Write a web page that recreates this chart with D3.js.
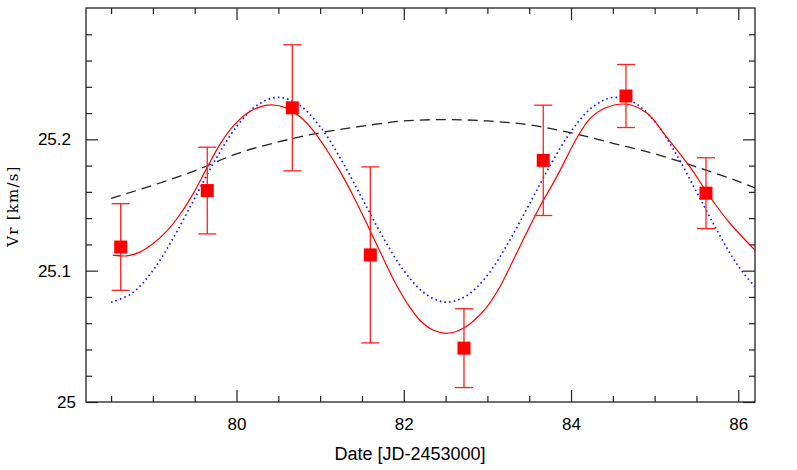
<!DOCTYPE html>
<html>
<head>
<meta charset="utf-8">
<script src="https://cdn.jsdelivr.net/npm/d3@7"></script>
<style>
  body { margin: 0; background: #fff; }
  .axis text { font-family: "Liberation Sans", Arial, sans-serif; font-size: 17px; fill: #000; }
  .axis line { stroke: #222; stroke-width: 1.2; }
  .axis path { display: none; }
</style>
</head>
<body>
<svg id="chart"></svg>
<script>
// observed radial velocities
const obsDate = [78.615, 79.65, 80.667, 81.60, 82.72, 83.668, 84.657, 85.614];
const obsVr   = [25.118, 25.161, 25.224, 25.112, 25.041, 25.184, 25.233, 25.159];
const obsHigh = [25.151, 25.194, 25.272, 25.179, 25.071, 25.226, 25.257, 25.186];
const obsLow  = [25.085, 25.128, 25.176, 25.045, 25.011, 25.142, 25.209, 25.132];

// red solid fit
const fitDate = [78.52, 78.69, 78.85, 79.00, 79.16, 79.32, 79.48, 79.64, 79.80, 79.96, 80.12, 80.28, 80.42,
                 80.60, 80.76, 80.92, 81.08, 81.24, 81.40, 81.56, 81.72, 81.88, 82.04, 82.19, 82.35, 82.51,
                 82.67, 82.83, 82.99, 83.15, 83.31, 83.47, 83.63, 83.83, 84.07, 84.23, 84.43, 84.67, 84.91,
                 85.14, 85.42, 85.66, 85.90, 86.21];
const fitVr   = [25.1118, 25.1113, 25.1143, 25.1205, 25.1297, 25.1424, 25.1585, 25.1775, 25.1960, 25.2100, 25.2195, 25.2247, 25.2262,
                 25.2238, 25.2172, 25.2065, 25.1919, 25.1754, 25.1563, 25.1355, 25.1140, 25.0929, 25.0752, 25.0624, 25.0548, 25.0523,
                 25.0548, 25.0615, 25.0720, 25.0878, 25.1081, 25.1290, 25.1490, 25.1716, 25.2010, 25.2160, 25.2244, 25.2267, 25.2198,
                 25.2020, 25.1792, 25.1563, 25.1361, 25.1150];

// blue dotted curve
const sinDate = [78.5, 78.75, 79.0, 79.25, 79.5, 79.75, 80.0, 80.25, 80.5, 80.75, 81.0, 81.25, 81.5, 81.75,
                 82.0, 82.25, 82.5, 82.75, 83.0, 83.25, 83.5, 83.75, 84.0, 84.25, 84.5, 84.75, 85.0, 85.25,
                 85.5, 85.75, 86.0, 86.2];
const sinVr   = [25.076, 25.0828, 25.1001, 25.1256, 25.1552, 25.1847, 25.2096, 25.2262, 25.232, 25.2262, 25.2096, 25.1847, 25.1552, 25.1256,
                 25.1001, 25.0828, 25.076, 25.0809, 25.0965, 25.1213, 25.1504, 25.1801, 25.206, 25.2242, 25.2319, 25.2281, 25.2137, 25.1896,
                 25.1601, 25.1302, 25.1034, 25.0878];

// black dashed long-term curve
const trendDate = [78.5, 79.0, 79.5, 80.0, 80.5, 81.0, 81.5, 82.0, 82.5, 83.0, 83.5, 84.0, 84.5, 85.0, 85.5, 86.0, 86.2];
const trendVr   = [25.155, 25.165, 25.176, 25.189, 25.198, 25.205, 25.210, 25.214, 25.215, 25.214, 25.211, 25.205, 25.197, 25.189, 25.179, 25.168, 25.163];

const xMajor = [80, 82, 84, 86];
const yMajor = [25, 25.1, 25.2];

class VelocityPlot {
    constructor(_config) {
        this.config = {
            parentElement: _config.parentElement,
            containerWidth: _config.containerWidth || 797,
            containerHeight: _config.containerHeight || 470,
            margin: {top: 8, right: 42, bottom: 68, left: 86}
        };
        this.initVis();
    }

    initVis() {
        let vis = this;

        vis.width = vis.config.containerWidth - vis.config.margin.left - vis.config.margin.right;
        vis.height = vis.config.containerHeight - vis.config.margin.top - vis.config.margin.bottom;

        vis.svg = d3.select(vis.config.parentElement)
            .attr('width', vis.config.containerWidth)
            .attr('height', vis.config.containerHeight);

        vis.chart = vis.svg.append('g')
            .attr('transform', `translate(${vis.config.margin.left}, ${vis.config.margin.top})`);

        vis.xScale = d3.scaleLinear().domain([78.2, 86.2]).range([0, vis.width]);
        vis.yScale = d3.scaleLinear().domain([25, 25.3]).range([vis.height, 0]);

        vis.chart.append('clipPath').attr('id', 'plotclip')
            .append('rect').attr('width', vis.width).attr('height', vis.height);

        vis.updateVis();
    }

    updateVis() {
        let vis = this;
        const xMinor = d3.range(78.5, 86.21, 0.5).filter(d => !xMajor.includes(d));
        const yMinor = d3.range(25.02, 25.29, 0.02).filter(d => !yMajor.some(m => Math.abs(m - d) < 1e-6));

        // ticks on all four sides, pointing inward
        vis.chart.append('g').attr('class', 'axis')
            .attr('transform', `translate(0,${vis.height})`)
            .call(d3.axisBottom(vis.xScale).tickValues(xMajor).tickSize(-12).tickPadding(16).tickFormat(d3.format('d')));
        vis.chart.append('g').attr('class', 'axis')
            .attr('transform', `translate(0,${vis.height})`)
            .call(d3.axisBottom(vis.xScale).tickValues(xMinor).tickSize(-6).tickFormat(''));
        vis.chart.append('g').attr('class', 'axis')
            .call(d3.axisTop(vis.xScale).tickValues(xMajor).tickSize(-12).tickFormat(''));
        vis.chart.append('g').attr('class', 'axis')
            .call(d3.axisTop(vis.xScale).tickValues(xMinor).tickSize(-6).tickFormat(''));

        const yAx = vis.chart.append('g').attr('class', 'axis')
            .call(d3.axisLeft(vis.yScale).tickValues(yMajor).tickSize(-12).tickPadding(15).tickFormat(d => d === 25 ? '25' : d3.format('.1f')(d)));
        yAx.selectAll('text').attr('dx', d => d === 25 ? 5 : 0);
        vis.chart.append('g').attr('class', 'axis')
            .call(d3.axisLeft(vis.yScale).tickValues(yMinor).tickSize(-6).tickFormat(''));
        vis.chart.append('g').attr('class', 'axis')
            .attr('transform', `translate(${vis.width},0)`)
            .call(d3.axisRight(vis.yScale).tickValues(yMajor).tickSize(-12).tickFormat(''));
        vis.chart.append('g').attr('class', 'axis')
            .attr('transform', `translate(${vis.width},0)`)
            .call(d3.axisRight(vis.yScale).tickValues(yMinor).tickSize(-6).tickFormat(''));

        // frame
        vis.chart.append('rect')
            .attr('width', vis.width).attr('height', vis.height)
            .attr('fill', 'none').attr('stroke', '#222').attr('stroke-width', 1.3);

        // axis labels
        vis.chart.append('text')
            .attr('x', 324).attr('y', vis.height + 58)
            .attr('text-anchor', 'middle')
            .style('font-family', '"Liberation Sans", Arial, sans-serif')
            .style('font-size', '18px')
            .text('Date [JD-2453000]');

        // typewriter-looking label in the original
        vis.chart.append('text')
            .attr('transform', `translate(${-68}, ${198}) rotate(-90)`)
            .attr('text-anchor', 'middle')
            .style('font-family', '"DejaVu Serif", "Liberation Serif", serif')
            .style('font-size', '15px')
            .style('letter-spacing', '1.2px')
            .text('Vr [km/s]');

        const line = d3.line()
            .x(d => vis.xScale(d[0]))
            .y(d => vis.yScale(d[1]))
            .curve(d3.curveCatmullRom.alpha(0.5));

        const plot = vis.chart.append('g').attr('clip-path', 'url(#plotclip)');

        plot.append('path')
            .datum(d3.zip(trendDate, trendVr))
            .attr('d', line)
            .attr('fill', 'none').attr('stroke', '#222').attr('stroke-width', 1.3)
            .attr('stroke-dasharray', '10,6');

        plot.append('path')
            .datum(d3.zip(sinDate, sinVr))
            .attr('d', line)
            .attr('fill', 'none').attr('stroke', '#1a1aff').attr('stroke-width', 1.7)
            .attr('stroke-dasharray', '1.6,3.1');

        plot.append('path')
            .datum(d3.zip(fitDate, fitVr))
            .attr('d', line)
            .attr('fill', 'none').attr('stroke', '#ff0000').attr('stroke-width', 1.2);

        // error bars
        const obs = obsDate.map((d, i) => ({date: d, vr: obsVr[i], hi: obsHigh[i], lo: obsLow[i]}));
        const bars = plot.selectAll('.err').data(obs).join('g').attr('class', 'err')
            .attr('stroke', '#ff2020').attr('stroke-width', 1.3);
        bars.append('line')
            .attr('x1', d => vis.xScale(d.date)).attr('x2', d => vis.xScale(d.date))
            .attr('y1', d => vis.yScale(d.hi)).attr('y2', d => vis.yScale(d.lo));
        bars.append('line')
            .attr('x1', d => vis.xScale(d.date) - 9).attr('x2', d => vis.xScale(d.date) + 9)
            .attr('y1', d => vis.yScale(d.hi)).attr('y2', d => vis.yScale(d.hi));
        bars.append('line')
            .attr('x1', d => vis.xScale(d.date) - 9).attr('x2', d => vis.xScale(d.date) + 9)
            .attr('y1', d => vis.yScale(d.lo)).attr('y2', d => vis.yScale(d.lo));

        plot.selectAll('.pt').data(obs).join('rect').attr('class', 'pt')
            .attr('x', d => vis.xScale(d.date) - 6.5)
            .attr('y', d => vis.yScale(d.vr) - 6.5)
            .attr('width', 13).attr('height', 13)
            .attr('fill', '#ff0000');
    }
}

new VelocityPlot({parentElement: '#chart'});
</script>
</body>
</html>
